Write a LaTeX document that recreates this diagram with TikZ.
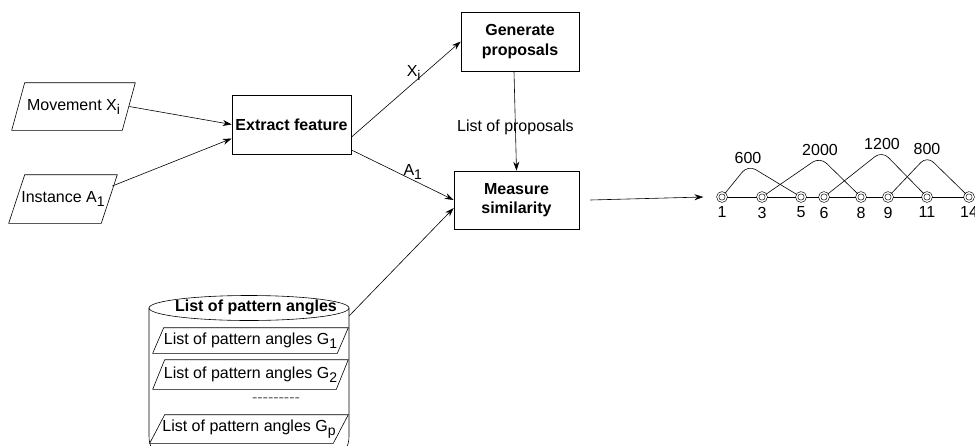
\documentclass[tikz,border=0pt]{standalone}
\usepackage{fontspec}
\setmainfont{Liberation Sans}
\usetikzlibrary{arrows.meta}
\newcommand{\lowsub}[1]{\raisebox{-4pt}{\fontsize{14}{14}\selectfont #1}}
\newcommand{\dashrow}{\mbox{-}\mbox{-}\mbox{-}\mbox{-}\mbox{-}\mbox{-}\mbox{-}\mbox{-}\mbox{-}}

\begin{document}
\begin{tikzpicture}[x=1pt,y=-1pt,semithick,
    every node/.style={font=\fontsize{16}{19.5}\selectfont},
    procbox/.style={draw,minimum width=#1,minimum height=59,inner sep=0,align=center,
        font=\fontsize{16}{19.5}\selectfont\bfseries},
    procbox/.default=120,
    slantbox/.style={inner sep=0,minimum width=#1},
    flow/.style={-{Stealth[length=9pt,width=6pt]}},
    dot/.style={circle,draw,double,double distance=1.4pt,inner sep=0,minimum size=8.6pt},
    numlabel/.style={label distance=4pt,inner sep=1pt},
    peaklabel/.style={above,inner sep=1pt}]
    \clip (0,0) rectangle (975,445);

    % inputs
    \node[slantbox=123,minimum height=47] (mov) at (73.5,106.5) {Movement X\lowsub{i}};
    \node[slantbox=108,minimum height=48] (inst) at (63,199) {Instance A\lowsub{1}};

    \node[procbox=119] (ext) at (291.5,124.5) {Extract feature};
    \node[procbox=118] (gen) at (520,41.5) {Generate\\proposals};
    \node[procbox=125,minimum height=58] (meas) at (516.5,200) {Measure\\similarity};

    % pattern store
    \draw (149,308) -- (149,436) to[out=-90,in=180] (249,452) to[out=0,in=-90] (349,436) -- (349,308);
    \draw (249,308) ellipse [x radius=100, y radius=12.5];
    \node[font=\fontsize{16}{19.5}\selectfont\bfseries] (store) at (256,307) {List of pattern angles};
    \coordinate (storetop) at (349,316);
    \node[slantbox=195,minimum height=25] (g1) at (250.5,340.5) {List of pattern angles G\lowsub{1}};
    \node[slantbox=195,minimum height=29] (g2) at (250.5,374.5) {List of pattern angles G\lowsub{2}};
    \node[text=black!60] (gdots) at (276,400) {\dashrow};
    \node[slantbox=198,minimum height=28] (gp) at (249,429) {List of pattern angles G\lowsub{p}};

    \foreach \n/\s in {mov/13,inst/16,g1/11,g2/12,gp/15}
        \draw (\n.south west) -- ([xshift=\s]\n.north west) -- (\n.north east)
            -- ([xshift=-\s]\n.south east) -- cycle;

    \draw[flow] ([xshift=-6]mov.east) -- (ext.west);
    \draw[flow] ([xshift=-5,yshift=13]inst.east) -- ([yshift=-14]ext.west);
    \draw[flow] (ext.-12) -- node[pos=0.57,above=-1pt] {X\lowsub{i}} (gen.west);
    \draw[flow] (ext.-23) -- node[pos=0.6,above=-3pt] {A\lowsub{1}} (meas.west);
    \draw[flow] ([xshift=-6]gen.south) -- node[pos=0.56] {List of proposals} (meas.north);
    \draw[flow] (storetop) -- ([yshift=-8]meas.west);

    % result sequence
    \foreach \px/\num in {722/1,762/3,801/5,824/6,861/8,888/9,927/11,969/14}
        \node[dot,label={[numlabel]below:\num}] (v\num) at (\px,197) {};
    \draw[flow] ([xshift=11]meas.east) -- ([xshift=-14]v1.west);
    \draw (v1) -- (v3) -- (v5) -- (v6) -- (v8) -- (v9) -- (v11) -- (v14);

    \draw[rounded corners=9pt] (v1) -- (748,165) node[peaklabel] {600} -- (v5);
    \draw[rounded corners=9pt] (v3) -- (820,157) node[peaklabel] {2000} -- (v8);
    \draw[rounded corners=9pt] (v6) -- (882,151) node[peaklabel] {1200} -- (v11);
    \draw[rounded corners=9pt] (v9) -- (927,156) node[peaklabel] {800} -- (v14);
\end{tikzpicture}
\end{document}
